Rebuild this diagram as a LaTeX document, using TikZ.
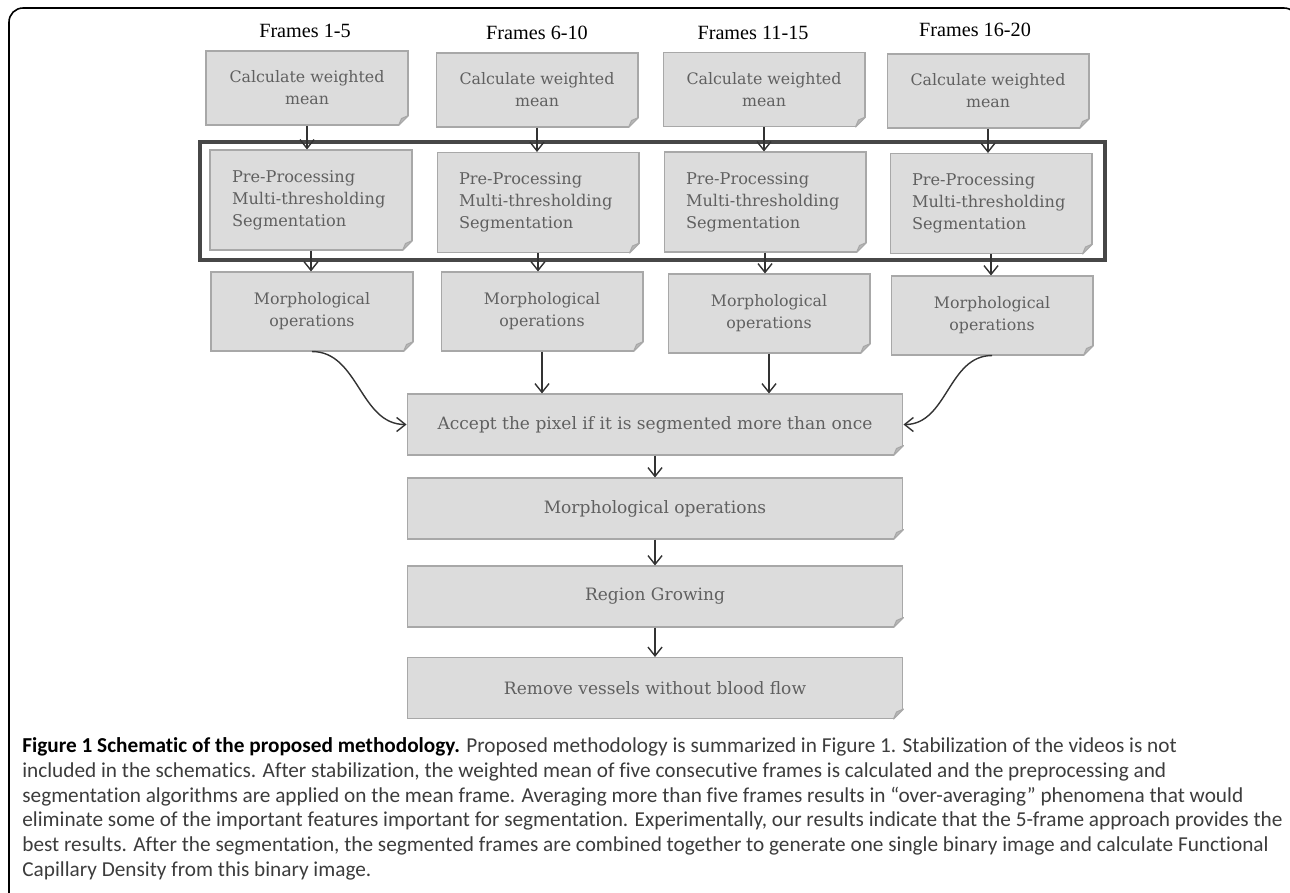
\documentclass[tikz,border=0pt]{standalone}
\usepackage{fontspec}
\setmainfont{DejaVu Serif}
\newfontfamily\titlefont{Liberation Serif}
\newfontfamily\capfont[Ligatures=NoCommon]{Carlito}
\usetikzlibrary{arrows.meta}

\definecolor{boxfill}{HTML}{DCDCDC}
\definecolor{boxline}{HTML}{A8A8A8}
\definecolor{boxtext}{HTML}{606060}
\definecolor{foldgray}{HTML}{B8B8B8}
\definecolor{linkgray}{HTML}{333333}
\definecolor{captext}{HTML}{3C3C3C}

\tikzset{
  stepbox/.style={draw=boxline, fill=boxfill, text=boxtext, line width=0.6pt,
    inner sep=0pt, align=center, font=\fontsize{9}{12.5}\selectfont},
  meanbox/.style={stepbox, minimum width=4.04cm, minimum height=1.48cm},
  prebox/.style={stepbox, minimum width=4.04cm, minimum height=2cm,
    text width=3.16cm, align=left, font=\fontsize{9.2}{12.5}\selectfont},
  morphbox/.style={stepbox, minimum width=4.04cm, minimum height=1.58cm},
  widebox/.style={stepbox, minimum width=9.92cm, minimum height=1.22cm,
    font=\fontsize{9.7}{12.5}\selectfont},
  framelabel/.style={font=\titlefont\fontsize{11.5}{14}\selectfont},
  link/.style={->, draw=linkgray, line width=0.8pt}
}

% folded corner of a note box
\newcommand{\notefold}[1]{%
  \fill[white] ([shift={(-11,1)}]#1.south east) -- ([shift={(1,1)}]#1.south east)
    -- ([shift={(1,-11)}]#1.south east) -- cycle;
  \filldraw[fill=foldgray, draw=boxline, line width=0.6pt, line join=round]
    ([shift={(-10,0)}]#1.south east) -- ([shift={(0,-10)}]#1.south east)
    -- ([shift={(-7,-7)}]#1.south east) -- cycle;
}

\begin{document}
\begin{tikzpicture}[x=0.02cm, y=-0.02cm, >={Straight Barb[length=5pt,width=8pt]}]
  \useasboundingbox (0,0) rectangle (1290,892);
  % Page frame
  \draw[line width=0.9pt, rounded corners=8] (9,900) -- (9,8) -- (1298,8) -- (1298,900);

  % Frame groups
  \node (t1) [framelabel] at (305,31) {Frames 1-5};
  \node (t2) [framelabel] at (537,33) {Frames 6-10};
  \node (t3) [framelabel] at (753,33) {Frames 11-15};
  \node (t4) [framelabel] at (975,30) {Frames 16-20};

  % Weighted mean
  \node (m1) [meanbox] at (307,88) {Calculate weighted\\mean};
  \node (m2) [meanbox] at (537,90) {Calculate weighted\\mean};
  \node (m3) [meanbox] at (764,89.5) {Calculate weighted\\mean};
  \node (m4) [meanbox] at (988,91) {Calculate weighted\\mean};

  % Segmentation
  \node (p1) [prebox] at (311,200) {Pre-Processing\\Multi-thresholding\\Segmentation};
  \node (p2) [prebox] at (538,202.5) {Pre-Processing\\Multi-thresholding\\Segmentation};
  \node (p3) [prebox] at (765,202) {Pre-Processing\\Multi-thresholding\\Segmentation};
  \node (p4) [prebox] at (991,203.5) {Pre-Processing\\Multi-thresholding\\Segmentation};
  \draw[draw=black!72, line width=1.8pt] (200,142) rectangle (1105,260);

  % Morphology per group
  \node (o1) [morphbox] at (312,311.5) {Morphological\\operations};
  \node (o2) [morphbox] at (542,311.5) {Morphological\\operations};
  \node (o3) [morphbox] at (769,313.5) {Morphological\\operations};
  \node (o4) [morphbox] at (992,315.5) {Morphological\\operations};

  % Combination
  \node (acc) [widebox] at (655,424.5) {Accept the pixel if it is segmented more than once};
  \node (mo) [widebox] at (655,508.5) {Morphological operations};
  \node (rg) [widebox] at (655,596.5) {Region Growing};
  \node (rv) [widebox] at (655,688) {Remove vessels without blood flow};

  \foreach \n in {m1,m2,m3,m4,p1,p2,p3,p4,o1,o2,o3,o4,acc,mo,rg,rv}
    \notefold{\n};

  \foreach \i in {1,...,4} {
    \draw[link] (m\i.south) -- (m\i.south |- p\i.north);
    \draw[link] (p\i.south) -- (p\i.south |- o\i.north);
  }
  \draw[link] (o1.south) to[out=0, in=180] (acc.west);
  \draw[link] (o2.south) -- (o2.south |- acc.north);
  \draw[link] (o3.south) -- (o3.south |- acc.north);
  \draw[link] (o4.south) to[out=180, in=0] (acc.east);
  \draw[link] (acc) -- (mo);
  \draw[link] (mo) -- (rg);
  \draw[link] (rg) -- (rv);

  % Caption
  \node (cap) [anchor=north west, inner sep=0pt, align=left, text=captext,
    font=\capfont\fontsize{12.1}{14.17}\selectfont] at (22,737) {%
    \textcolor{black}{\textbf{Figure 1 Schematic of the proposed methodology.}} Proposed methodology is summarized in Figure 1. Stabilization of the videos is not\\
    included in the schematics. After stabilization, the weighted mean of five consecutive frames is calculated and the preprocessing and\\
    segmentation algorithms are applied on the mean frame. Averaging more than five frames results in “over-averaging” phenomena that would\\
    eliminate some of the important features important for segmentation. Experimentally, our results indicate that the 5-frame approach provides the\\
    best results. After the segmentation, the segmented frames are combined together to generate one single binary image and calculate Functional\\
    Capillary Density from this binary image.};
\end{tikzpicture}
\end{document}
